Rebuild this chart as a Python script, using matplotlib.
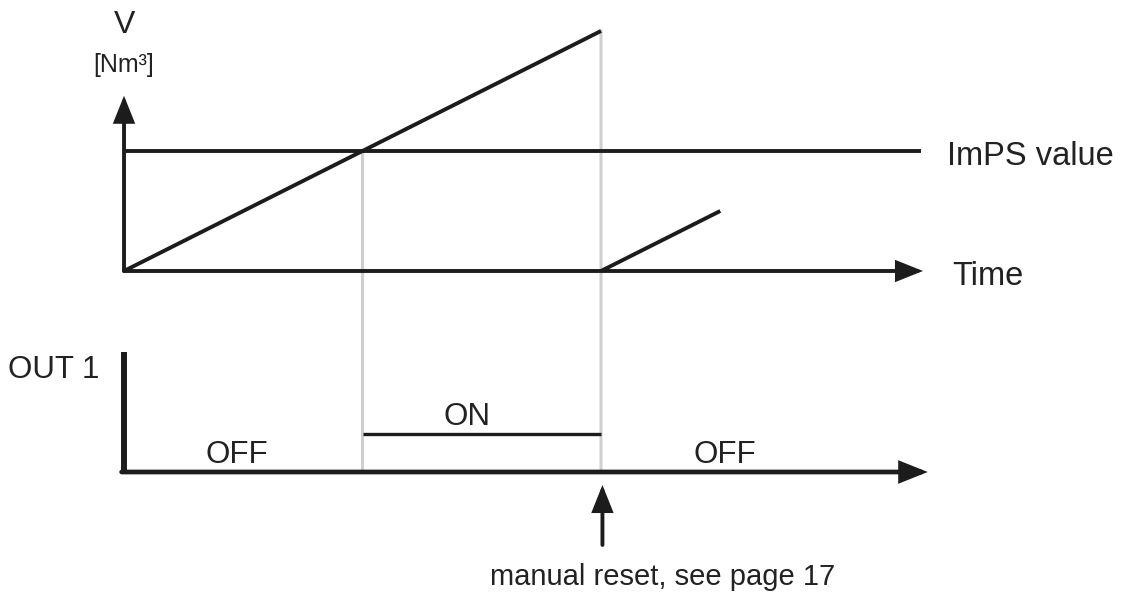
#!/usr/bin/env python3
# Timing diagram: volume counter vs ImPS threshold, and OUT 1 state.
import matplotlib
matplotlib.use("Agg")
import matplotlib.pyplot as plt
from matplotlib.patches import ConnectionPatch

# --- data (time in arbitrary units, V normalised to ImPS value = 1) ---
ramp1_time = [0.0, 10.0]
ramp1_volume = [0.0, 2.0]
ramp2_time = [10.0, 12.5]
ramp2_volume = [0.0, 0.5]
imps_value = 1.0
t_on = 5.0          # counter reaches ImPS value
t_reset = 10.0      # manual reset
t_end = 16.75       # end of time axis
on_time = [t_on, t_reset]
on_level = [1.0, 1.0]
v_axis_top = 1.46
out_axis_top = 3.13

BLACK = "#1c1c1c"
GREY = "#cfcfcf"
TXT = "#222222"
plt.rcParams["font.family"] = ["Liberation Sans", "DejaVu Sans"]

fig = plt.figure(figsize=(11.33, 5.99), dpi=100)
# both axes cover the whole figure, same time scale, different vertical units
ax_out = fig.add_axes([0, 0, 1, 1])
ax_v = fig.add_axes([0, 0, 1, 1])
for ax in (ax_out, ax_v):
    ax.set_xlim(-2.600, 21.153)
    ax.axis("off")
    ax.patch.set_visible(False)
ax_v.set_ylim(-2.733, 2.258)
ax_out.set_ylim(-3.316, 12.324)


def arrow(ax, start, tip, lw, hl=15, hw=6):
    ax.annotate("", xy=tip, xytext=start,
                arrowprops=dict(arrowstyle=f"-|>,head_length={hl},head_width={hw}",
                                mutation_scale=1, lw=lw, color=BLACK,
                                shrinkA=0, shrinkB=0, joinstyle="miter"))


# grey guide lines from the V plot down to the OUT 1 axis
for t, v in [(t_on, imps_value), (t_reset, ramp1_volume[-1])]:
    con = ConnectionPatch(xyA=(t, v), coordsA=ax_v.transData,
                          xyB=(t, 0), coordsB=ax_out.transData,
                          color=GREY, lw=2.2, zorder=-1)
    fig.add_artist(con)

# --- upper plot: V [Nm3] ---
arrow(ax_v, (0, 0), (0, v_axis_top), lw=2.8)
arrow(ax_v, (0, 0), (t_end, 0), lw=2.8)
ax_v.plot([0, t_end - 0.05], [imps_value, imps_value], color=BLACK, lw=2.8,
          solid_capstyle="butt")
ax_v.plot(ramp1_time, ramp1_volume, color=BLACK, lw=2.8, solid_capstyle="butt")
ax_v.plot(ramp2_time, ramp2_volume, color=BLACK, lw=2.8, solid_capstyle="butt")

ax_v.text(0.02, 1.983, "V", ha="center", va="baseline", fontsize=23, color=TXT)
ax_v.text(0.0, 1.658, "[Nm³]", ha="center", va="baseline", fontsize=18, color=TXT)
ax_v.text(17.25, 0.883, "ImPS value", ha="left", va="baseline", fontsize=23.5, color=TXT)
ax_v.text(17.36, -0.117, "Time", ha="left", va="baseline", fontsize=23.5, color=TXT)

# --- lower plot: OUT 1 ---
ax_out.plot([0, 0], [0, out_axis_top], color=BLACK, lw=4.3, solid_capstyle="butt")
arrow(ax_out, (-0.05, 0), (t_end + 0.1, 0), lw=3.4)
ax_out.plot(on_time, on_level, color=BLACK, lw=2.4, solid_capstyle="butt")
arrow(ax_out, (t_reset + 0.03, -1.906), (t_reset + 0.03, -0.34), lw=2.8)

ax_out.text(-2.43, 2.45, "OUT 1", ha="left", va="baseline", fontsize=22.5, color=TXT)
ax_out.text(7.2, 1.23, "ON", ha="center", va="baseline", fontsize=22.5, color=TXT)
ax_out.text(2.37, 0.235, "OFF", ha="center", va="baseline", fontsize=22.5, color=TXT)
ax_out.text(12.6, 0.235, "OFF", ha="center", va="baseline", fontsize=22.5, color=TXT)
ax_out.text(7.67, -2.95, "manual reset, see page 17", ha="left", va="baseline",
            fontsize=21, color=TXT)

fig.savefig("out.png", dpi=100, facecolor="white")
